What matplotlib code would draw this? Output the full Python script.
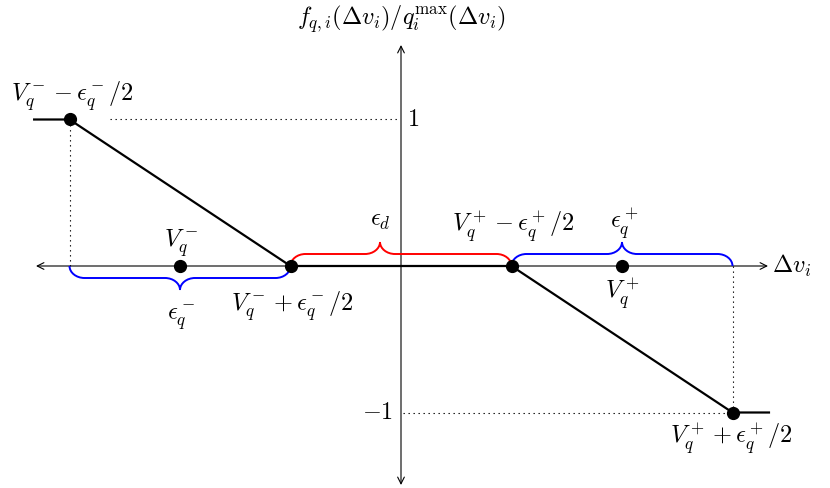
import numpy as np
import matplotlib.pyplot as plt
from matplotlib.path import Path
from matplotlib.patches import PathPatch

plt.rcParams['mathtext.fontset'] = 'cm'

# curve corners (delta v, normalised force)
curve_x = [-3.32, -3, -1, 1, 3, 3.33]
curve_y = [1, 1, 0, 0, -1, -1]
# dots: corners and the two centres V_q^-, V_q^+
dot_x = [-3, -2, -1, 1, 2, 3]
dot_y = [1, 0, 0, 0, 0, -1]

# braces: start, end, tip, side (+1 above, -1 below), colour
braces = [
    (-3, -1, -2, -1, 'blue'),
    (-1, 1, -0.19, 1, 'red'),
    (1, 3, 2, 1, 'blue'),
]

FS = 17.5
DOTS = (0, (1.2, 3.3))

fig = plt.figure(figsize=(8.3, 4.88), dpi=100)
ax = fig.add_axes([0, 0, 1, 1])
ax.set_xlim(-401 / 110.5, (830 - 401) / 110.5)
ax.set_ylim((266 - 488) / 146.5, 266 / 146.5)
ax.axis('off')


def px(x, y):
    # pixel position in the picture -> data coordinates
    return (x - 401) / 110.5, (266 - y) / 146.5


def brace(x0, x1, tip, side, color):
    h = side * 12 / 146.5
    r = 15 / 110.5
    verts = [
        (x0, 0), (x0, 0.55 * h), (x0 + 0.45 * r, h), (x0 + r, h),
        (tip - r, h),
        (tip - 0.45 * r, h), (tip, 1.45 * h), (tip, 2 * h),
        (tip, 1.45 * h), (tip + 0.45 * r, h), (tip + r, h),
        (x1 - r, h),
        (x1 - 0.45 * r, h), (x1, 0.55 * h), (x1, 0),
    ]
    codes = [Path.MOVETO, Path.CURVE4, Path.CURVE4, Path.CURVE4,
             Path.LINETO,
             Path.CURVE4, Path.CURVE4, Path.CURVE4,
             Path.CURVE4, Path.CURVE4, Path.CURVE4,
             Path.LINETO,
             Path.CURVE4, Path.CURVE4, Path.CURVE4]
    ax.add_patch(PathPatch(Path(verts, codes), fill=False, color=color,
                           lw=1.4, zorder=3))


# axes with arrows
ax.annotate('', xy=px(768, 266), xytext=px(36, 266),
            arrowprops=dict(arrowstyle='<->', lw=0.8, color='black',
                            shrinkA=0, shrinkB=0, mutation_scale=12))
ax.annotate('', xy=px(401, 45), xytext=px(401, 485),
            arrowprops=dict(arrowstyle='<->', lw=0.8, color='black',
                            shrinkA=0, shrinkB=0, mutation_scale=12))

# dotted guides
ax.plot([px(110, 0)[0], px(398, 0)[0]], [1, 1], linestyle=DOTS, color='black', lw=0.8)
ax.plot([px(403, 0)[0], 3], [-1, -1], linestyle=DOTS, color='black', lw=0.8)
ax.plot([-3, -3], [0, 1], linestyle=DOTS, color='black', lw=0.8)
ax.plot([3, 3], [0, -1], linestyle=DOTS, color='black', lw=0.8)

for b in braces:
    brace(*b)

ax.plot(curve_x, curve_y, color='black', lw=1.6, zorder=4)
ax.plot(dot_x, dot_y, 'o', color='black', ms=8.5, zorder=5)

labels = [
    (72, 96, r'$V_q^- - \epsilon_q^-/2$', 'center'),
    (181, 243, r'$V_q^-$', 'center'),
    (181, 318, r'$\epsilon_q^-$', 'center'),
    (292, 306, r'$V_q^- + \epsilon_q^-/2$', 'center'),
    (380, 220, r'$\epsilon_d$', 'center'),
    (513, 227, r'$V_q^+ - \epsilon_q^+/2$', 'center'),
    (624, 224, r'$\epsilon_q^+$', 'center'),
    (622, 294, r'$V_q^+$', 'center'),
    (731, 439, r'$V_q^+ + \epsilon_q^+/2$', 'center'),
    (401, 19, r'$f_{q,i}(\Delta v_i)/q_i^{\max}(\Delta v_i)$', 'center'),
]
for x, y, s, ha in labels:
    ax.text(*px(x, y), s, fontsize=FS, ha=ha, va='center')

ax.text(*px(772, 266), r'$\Delta v_i$', fontsize=FS, ha='left', va='center')
ax.text(*px(393, 412), r'$-1$', fontsize=FS, ha='right', va='center')
ax.text(*px(407, 119), r'$1$', fontsize=FS, ha='left', va='center')

fig.savefig('out.png', dpi=100)
